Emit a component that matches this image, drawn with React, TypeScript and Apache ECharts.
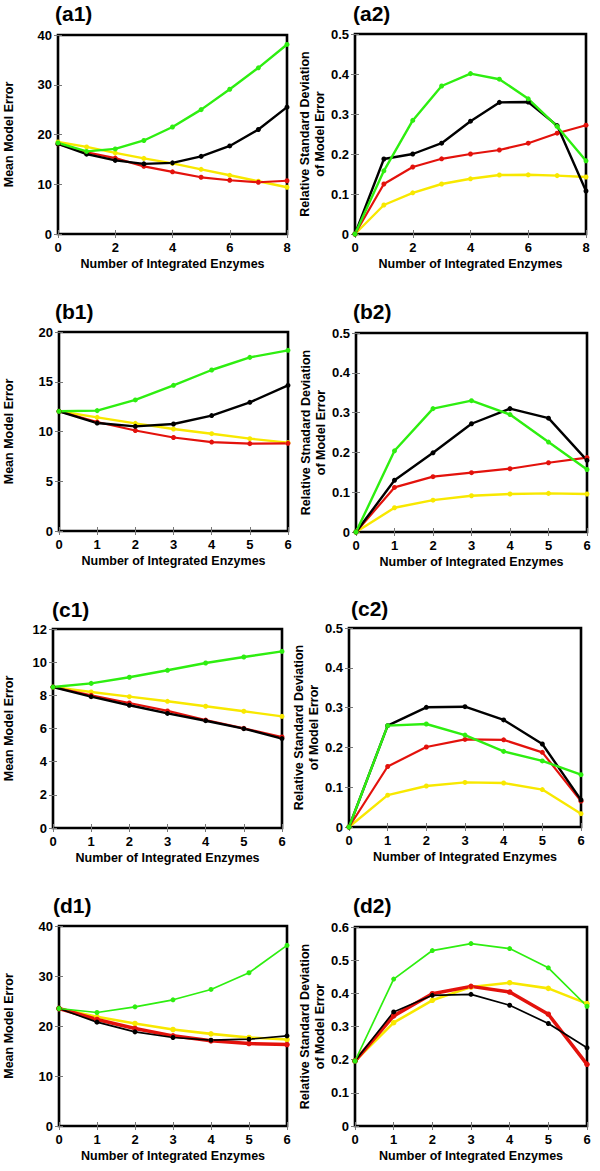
import React, { useEffect, useRef } from "react";
import * as echarts from "echarts";

// x categories (number of integrated enzymes)
const xEight = [0, 1, 2, 3, 4, 5, 6, 7, 8];
const xSix = [0, 1, 2, 3, 4, 5, 6];

// (a1) Mean Model Error
const a1Green = [18.3, 16.6, 17.1, 18.8, 21.5, 25.0, 29.1, 33.4, 38.1];
const a1Black = [18.1, 16.05, 14.8, 14.1, 14.3, 15.6, 17.7, 21.0, 25.5];
const a1Red = [18.1, 16.4, 15.25, 13.6, 12.5, 11.4, 10.8, 10.4, 10.7];
const a1Yellow = [18.5, 17.5, 16.3, 15.2, 14.2, 13.0, 11.8, 10.6, 9.4];

// (a2) Relative standard deviation
const a2Green = [0, 0.158, 0.284, 0.37, 0.401, 0.387, 0.338, 0.269, 0.183];
const a2Black = [0, 0.1875, 0.2, 0.227, 0.282, 0.329, 0.33, 0.271, 0.1075];
const a2Red = [0, 0.125, 0.1675, 0.188, 0.2, 0.21, 0.227, 0.252, 0.272];
const a2Yellow = [0, 0.0725, 0.103, 0.125, 0.138, 0.1475, 0.148, 0.146, 0.1425];

// (b1)
const b1Green = [12.03, 12.1, 13.17, 14.64, 16.18, 17.45, 18.16];
const b1Black = [12.03, 10.85, 10.52, 10.75, 11.6, 12.93, 14.64];
const b1Red = [12.03, 10.95, 10.1, 9.4, 8.94, 8.78, 8.81];
const b1Yellow = [12.03, 11.42, 10.82, 10.25, 9.78, 9.28, 8.88];

// (b2)
const b2Green = [0, 0.204, 0.31, 0.33, 0.295, 0.226, 0.157];
const b2Black = [0, 0.13, 0.199, 0.272, 0.31, 0.286, 0.18];
const b2Red = [0, 0.112, 0.139, 0.149, 0.159, 0.174, 0.187];
const b2Yellow = [0, 0.061, 0.08, 0.091, 0.0955, 0.097, 0.0955];

// (c1)
const c1Green = [8.5, 8.72, 9.09, 9.51, 9.95, 10.31, 10.65];
const c1Black = [8.5, 7.92, 7.4, 6.91, 6.47, 5.99, 5.39];
const c1Red = [8.5, 8.0, 7.54, 7.06, 6.51, 6.01, 5.49];
const c1Yellow = [8.5, 8.2, 7.92, 7.64, 7.34, 7.04, 6.73];

// (c2)
const c2Green = [0, 0.2546, 0.2588, 0.231, 0.19, 0.166, 0.1315];
const c2Black = [0, 0.2546, 0.3007, 0.3023, 0.269, 0.2085, 0.068];
const c2Red = [0, 0.152, 0.201, 0.22, 0.219, 0.1876, 0.065];
const c2Yellow = [0, 0.08, 0.103, 0.112, 0.1105, 0.094, 0.0335];

// (d1)
const d1Green = [23.5, 22.7, 23.84, 25.24, 27.31, 30.65, 36.13];
const d1Black = [23.5, 20.77, 18.83, 17.7, 17.16, 17.36, 18.03];
const d1Red = [23.5, 21.3, 19.5, 18.03, 17.03, 16.5, 16.29];
const d1Yellow = [23.5, 21.84, 20.5, 19.3, 18.43, 17.7, 17.3];

// (d2)
const d2Green = [0.196, 0.443, 0.529, 0.55, 0.535, 0.477, 0.361];
const d2Black = [0.196, 0.344, 0.394, 0.397, 0.364, 0.309, 0.236];
const d2Red = [0.196, 0.332, 0.399, 0.421, 0.404, 0.337, 0.186];
const d2Yellow = [0.196, 0.3115, 0.379, 0.419, 0.432, 0.415, 0.369];

const GREEN = "#2eee10";
const BLACK = "#000000";
const RED = "#e3120c";
const YELLOW = "#f8e800";
const FONT = "Liberation Sans";

const xName = "Number of Integrated Enzymes";
const meanName = "Mean Model Error";
const rsdName = "Relative Standard Deviation\nof Model Error";
const rsdNameTypo = "Relative Stnadard Deviation\nof Model Error";

type Panel = {
  title: string;
  xs: number[];
  green: number[];
  black: number[];
  red: number[];
  yellow: number[];
  yMax: number;
  yInt: number;
  yName: string;
  grid: { left: number; top: number; width: number; height: number };
  titlePos: [number, number];
  nameGap: number;
  widths: { g: number; k: number; r: number; y: number };
};

const thin = { g: 2.4, k: 2.4, r: 2.2, y: 2.4 };
const dW = { g: 1.7, k: 1.7, r: 3.5, y: 2.6 };

const panels: Panel[] = [
  { title: "(a1)", xs: xEight, green: a1Green, black: a1Black, red: a1Red, yellow: a1Yellow, yMax: 40, yInt: 10, yName: meanName, grid: { left: 56, top: 35, width: 231, height: 199 }, titlePos: [55, 3], nameGap: 42, widths: thin },
  { title: "(a2)", xs: xEight, green: a2Green, black: a2Black, red: a2Red, yellow: a2Yellow, yMax: 0.5, yInt: 0.1, yName: rsdName, grid: { left: 355, top: 34, width: 231, height: 200 }, titlePos: [353, 3], nameGap: 27, widths: thin },
  { title: "(b1)", xs: xSix, green: b1Green, black: b1Black, red: b1Red, yellow: b1Yellow, yMax: 20, yInt: 5, yName: meanName, grid: { left: 57, top: 332, width: 231, height: 199 }, titlePos: [55, 301], nameGap: 43, widths: thin },
  { title: "(b2)", xs: xSix, green: b2Green, black: b2Black, red: b2Red, yellow: b2Yellow, yMax: 0.5, yInt: 0.1, yName: rsdNameTypo, grid: { left: 356, top: 333, width: 231, height: 199 }, titlePos: [353, 301], nameGap: 27, widths: thin },
  { title: "(c1)", xs: xSix, green: c1Green, black: c1Black, red: c1Red, yellow: c1Yellow, yMax: 12, yInt: 2, yName: meanName, grid: { left: 51, top: 629, width: 231, height: 199 }, titlePos: [52, 599], nameGap: 37, widths: thin },
  { title: "(c2)", xs: xSix, green: c2Green, black: c2Black, red: c2Red, yellow: c2Yellow, yMax: 0.5, yInt: 0.1, yName: rsdName, grid: { left: 349, top: 628, width: 232, height: 199 }, titlePos: [351, 598], nameGap: 27, widths: thin },
  { title: "(d1)", xs: xSix, green: d1Green, black: d1Black, red: d1Red, yellow: d1Yellow, yMax: 40, yInt: 10, yName: meanName, grid: { left: 57, top: 926, width: 230, height: 200 }, titlePos: [53, 895], nameGap: 43, widths: dW },
  { title: "(d2)", xs: xSix, green: d2Green, black: d2Black, red: d2Red, yellow: d2Yellow, yMax: 0.6, yInt: 0.1, yName: rsdName, grid: { left: 355, top: 927, width: 232, height: 199 }, titlePos: [353, 895], nameGap: 27, widths: dW },
];

function buildOption() {
  const grid: any[] = [];
  const xAxis: any[] = [];
  const yAxis: any[] = [];
  const series: any[] = [];
  const graphic: any[] = [];
  const labelStyle = { color: "#000", fontWeight: "bold", fontSize: 13, fontFamily: FONT };
  const tick = { inside: true, length: 4, lineStyle: { color: "#777", width: 1 } };

  panels.forEach((p, i) => {
    grid.push({ ...p.grid, show: true, borderColor: "#000", borderWidth: 2.6, backgroundColor: "transparent", containLabel: false });
    const xMax = p.xs[p.xs.length - 1];
    const xInt = xMax === 8 ? 2 : 1;
    xAxis.push({
      gridIndex: i, type: "value", min: 0, max: xMax, interval: xInt, position: "bottom",
      axisLine: { show: false }, axisTick: tick, splitLine: { show: false },
      axisLabel: { ...labelStyle, margin: 7 },
      name: xName, nameLocation: "middle", nameGap: 23,
      nameTextStyle: { color: "#000", fontWeight: "bold", fontSize: 12.5, fontFamily: FONT },
    });
    xAxis.push({
      gridIndex: i, type: "value", min: 0, max: xMax, interval: xInt, position: "top",
      axisLine: { show: false }, axisTick: tick, splitLine: { show: false }, axisLabel: { show: false },
    });
    yAxis.push({
      gridIndex: i, type: "value", min: 0, max: p.yMax, interval: p.yInt, position: "left",
      axisLine: { show: false }, axisTick: tick, splitLine: { show: false },
      axisLabel: { ...labelStyle, margin: 6 },
      name: p.yName, nameLocation: "middle", nameRotate: 90, nameGap: p.nameGap,
      nameTextStyle: { color: "#000", fontWeight: "bold", fontSize: 12.5, fontFamily: FONT, lineHeight: 15 },
    });
    yAxis.push({
      gridIndex: i, type: "value", min: 0, max: p.yMax, interval: p.yInt, position: "right",
      axisLine: { show: false }, axisTick: tick, splitLine: { show: false }, axisLabel: { show: false },
    });
    const mk = (name: string, arr: number[], color: string, w: number) => ({
      type: "line", name, xAxisIndex: 2 * i, yAxisIndex: 2 * i,
      data: p.xs.map((x, j) => [x, arr[j]]),
      lineStyle: { color, width: w }, itemStyle: { color },
      symbol: "circle", symbolSize: w > 2.5 ? 5.5 : 5, showSymbol: true,
      silent: true,
    });
    series.push(mk("yellow", p.yellow, YELLOW, p.widths.y));
    series.push(mk("red", p.red, RED, p.widths.r));
    series.push(mk("black", p.black, BLACK, p.widths.k));
    series.push(mk("green", p.green, GREEN, p.widths.g));
    graphic.push({
      type: "text", x: p.titlePos[0], y: p.titlePos[1],
      style: { text: p.title, fill: "#000", font: `bold 21px "${FONT}"`, textVerticalAlign: "top" },
    });
  });

  return { animation: false, backgroundColor: "#fff", grid, xAxis, yAxis, series, graphic };
}

export default function App() {
  const ref = useRef<HTMLDivElement>(null);
  useEffect(() => {
    if (!ref.current) return;
    const chart = echarts.init(ref.current, undefined, { renderer: "svg" });
    chart.setOption(buildOption() as any);
    return () => chart.dispose();
  }, []);
  return (
    <div
      ref={ref}
      style={{ position: "absolute", left: 0, top: 0, width: 600, height: 1171, background: "#fff" }}
    />
  );
}
